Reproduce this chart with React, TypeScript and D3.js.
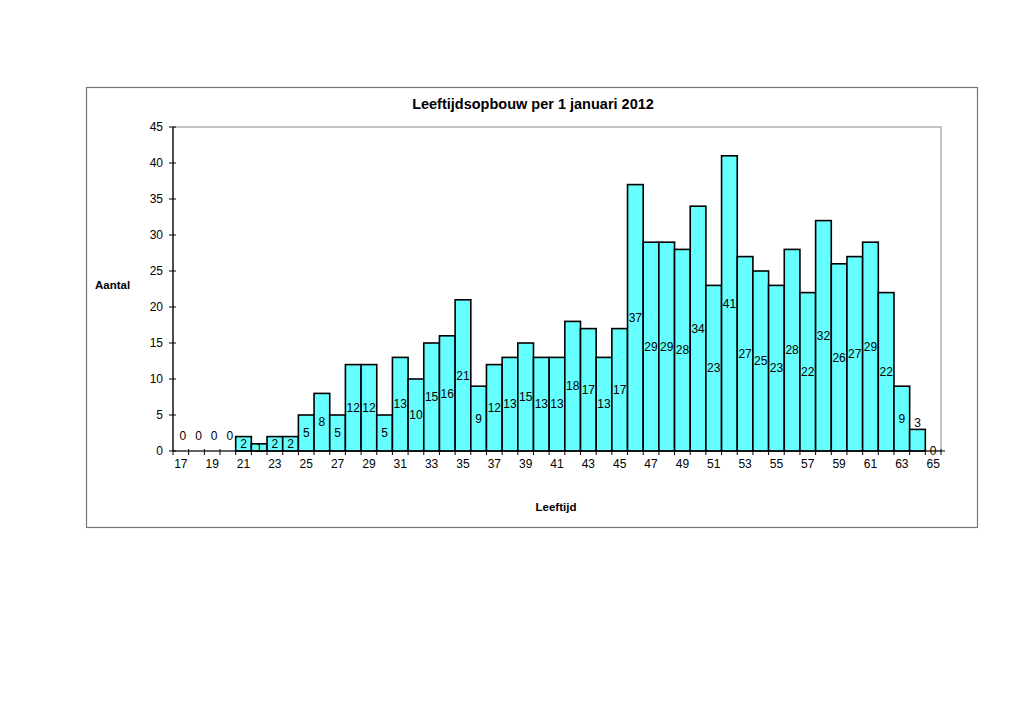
import React from "react";
import * as d3 from "d3";

const ages: number[] = [17,18,19,20,21,22,23,24,25,26,27,28,29,30,31,32,33,34,35,36,37,38,39,40,41,42,43,44,45,46,47,48,49,50,51,52,53,54,55,56,57,58,59,60,61,62,63,64,65];
const counts: number[] = [0,0,0,0,2,1,2,2,5,8,5,12,12,5,13,10,15,16,21,9,12,13,15,13,13,18,17,13,17,37,29,29,28,34,23,41,27,25,23,28,22,32,26,27,29,22,9,3,0];
const yTicks: number[] = [0,5,10,15,20,25,30,35,40,45];
const title = "Leeftijdsopbouw per 1 januari 2012";
const yTitle = "Aantal";
const xTitle = "Leeftijd";

export default function App() {
  const W = 1024, H = 724;
  const left = 173, right = 941, top = 127, bottom = 451;
  const x = d3.scaleBand<number>().domain(ages).range([left, right]).padding(0);
  const y = d3.scaleLinear().domain([0, 45]).range([bottom, top]);
  const bw = x.bandwidth();
  const font = "'Liberation Sans', Arial, sans-serif";
  const n = ages.length;
  return (
    <svg width={W} height={H} style={{ position: "absolute", left: 0, top: 0 }} fontFamily={font}>
      <rect x={0} y={0} width={W} height={H} fill="#fff" />
      <rect x={86.5} y={87.5} width={891} height={440} fill="#fff" stroke="#777" strokeWidth={1.2} />
      <text x={533} y={109} textAnchor="middle" fontSize={14.5} fontWeight="bold">{title}</text>
      <rect x={left} y={top} width={right - left} height={bottom - top} fill="none" stroke="#888" strokeWidth={1} />
      {ages.map((a, i) => (
        counts[i] > 0 ? (
          <rect key={a} x={x(a)!} y={y(counts[i])} width={bw} height={bottom - y(counts[i])}
            fill="#66FFFF" stroke="#000" strokeWidth={1.6} />
        ) : null
      ))}
      {/* y axis */}
      <line x1={left} x2={left} y1={top} y2={bottom} stroke="#000" strokeWidth={1.2} />
      {yTicks.map(t => (
        <g key={t}>
          <line x1={left - 4} x2={left + 3} y1={y(t)} y2={y(t)} stroke="#000" strokeWidth={1} />
          <text x={left - 10} y={y(t)} dy="0.35em" textAnchor="end" fontSize={12}>{t}</text>
        </g>
      ))}
      {/* x axis */}
      <line x1={left} x2={right + 4} y1={bottom} y2={bottom} stroke="#000" strokeWidth={1.2} />
      {ages.map((a) => (
        <line key={"t" + a} x1={x(a)! + bw} x2={x(a)! + bw} y1={bottom - 2} y2={bottom + 4} stroke="#000" strokeWidth={1} />
      ))}
      <line x1={left} x2={left} y1={bottom} y2={bottom + 4} stroke="#000" strokeWidth={1} />
      {ages.filter(a => a % 2 === 1).map(a => (
        <text key={"l" + a} x={x(a)! + bw / 2} y={468} textAnchor="middle" fontSize={12}>{a}</text>
      ))}
      {/* data labels */}
      {ages.map((a, i) => {
        const v = counts[i];
        let cy = y(v / 2);
        if (v === 0 && i < n - 1) cy = bottom - 15;
        else if (v > 0 && bottom - y(v) < 22 && bottom - y(v) > 16) cy = y(v) - 7;
        return (
          <text key={"d" + a} x={x(a)! + bw / 2 + (v === 0 && i < n - 1 ? 2 : 0)} y={cy} dy="0.35em" textAnchor="middle" fontSize={12}>{v}</text>
        );
      })}
      <text x={95} y={289} fontSize={11.5} fontWeight="bold">{yTitle}</text>
      <text x={556} y={511} textAnchor="middle" fontSize={11.5} fontWeight="bold">{xTitle}</text>
    </svg>
  );
}
